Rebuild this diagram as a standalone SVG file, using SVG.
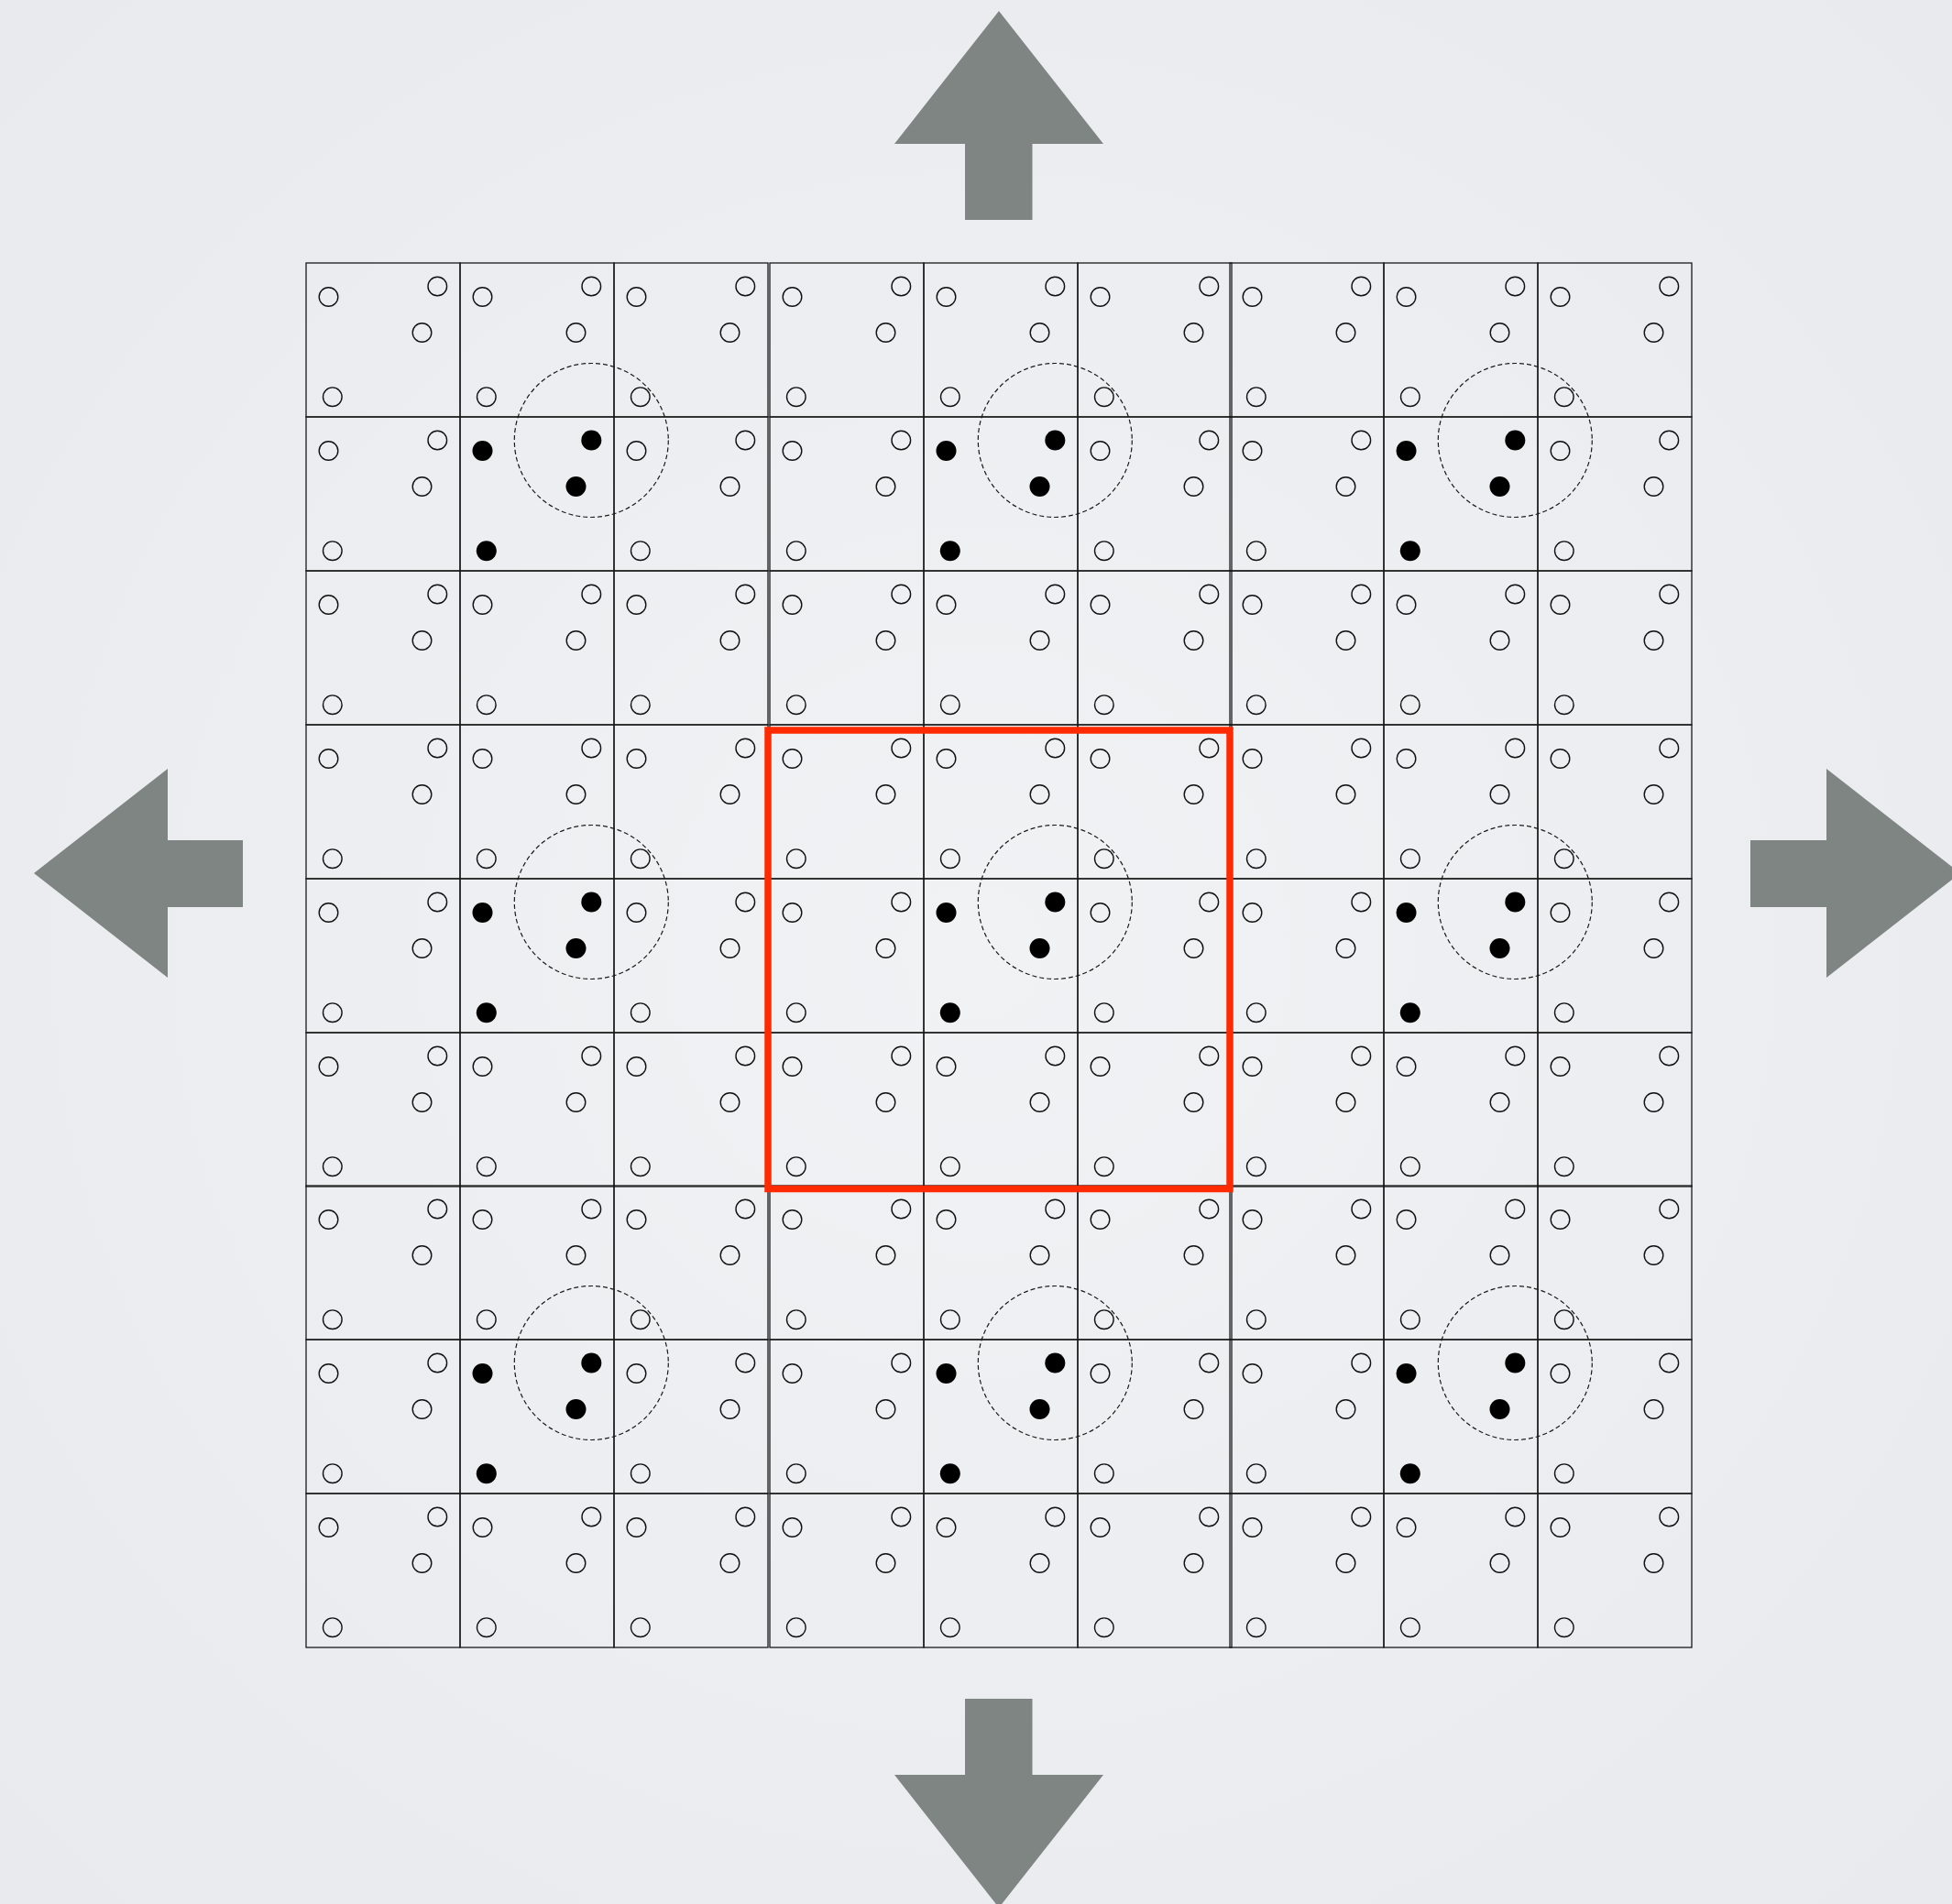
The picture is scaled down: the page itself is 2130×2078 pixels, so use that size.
<svg xmlns="http://www.w3.org/2000/svg" xmlns:xlink="http://www.w3.org/1999/xlink" width="2130" height="2078" viewBox="0 0 2130 2078">
  <style>
    .cellbox { fill: none; stroke: #1a1a1a; stroke-width: 1.3; }
    .open { fill: none; stroke: #111; stroke-width: 1.4; }
    .full { fill: #000; stroke: none; }
    .range { fill: none; stroke: #1a1a1a; stroke-width: 1.2; stroke-dasharray: 5 3; }
    .arrow { fill: #7f8582; stroke: none; }
    .focus { fill: none; stroke: #ff2a00; stroke-width: 7.5; }
  </style>
  <defs>
    <radialGradient id="bg" cx="50%" cy="50%" r="75%">
      <stop offset="0" stop-color="#f1f2f4"/>
      <stop offset="1" stop-color="#e7e9ec"/>
    </radialGradient>
    <g id="cellO">
      <rect class="cellbox" x="0" y="0" width="168" height="168"/>
      <circle class="open" cx="24.5" cy="37" r="10.3"/>
      <circle class="open" cx="143.3" cy="25.5" r="10.3"/>
      <circle class="open" cx="126.5" cy="76" r="10.3"/>
      <circle class="open" cx="28.8" cy="146.2" r="10.3"/>
    </g>
    <g id="cellF">
      <rect class="cellbox" x="0" y="0" width="168" height="168"/>
      <circle class="full" cx="24.5" cy="37" r="11"/>
      <circle class="full" cx="143.3" cy="25.5" r="11"/>
      <circle class="full" cx="126.5" cy="76" r="11"/>
      <circle class="full" cx="28.8" cy="146.2" r="11"/>
    </g>
    <g id="block">
      <use xlink:href="#cellO" x="0" y="0"/>
      <use xlink:href="#cellO" x="168" y="0"/>
      <use xlink:href="#cellO" x="336" y="0"/>
      <use xlink:href="#cellO" x="0" y="168"/>
      <use xlink:href="#cellF" x="168" y="168"/>
      <use xlink:href="#cellO" x="336" y="168"/>
      <use xlink:href="#cellO" x="0" y="336"/>
      <use xlink:href="#cellO" x="168" y="336"/>
      <use xlink:href="#cellO" x="336" y="336"/>
      <circle class="range" cx="311.3" cy="193.5" r="84"/>
    </g>
  </defs>

  <rect x="0" y="0" width="2130" height="2078" fill="url(#bg)"/>

  <g id="grid">
    <g id="block-0-0"><use xlink:href="#block" x="334" y="287"/></g>
    <g id="block-0-1"><use xlink:href="#block" x="840" y="287"/></g>
    <g id="block-0-2"><use xlink:href="#block" x="1342" y="287"/></g>
    <g id="block-1-0"><use xlink:href="#block" x="334" y="791"/></g>
    <g id="block-1-1"><use xlink:href="#block" x="840" y="791"/></g>
    <g id="block-1-2"><use xlink:href="#block" x="1342" y="791"/></g>
    <g id="block-2-0"><use xlink:href="#block" x="334" y="1294"/></g>
    <g id="block-2-1"><use xlink:href="#block" x="840" y="1294"/></g>
    <g id="block-2-2"><use xlink:href="#block" x="1342" y="1294"/></g>
  </g>

  <g id="focus-window">
    <rect class="focus" x="838" y="797" width="504" height="500.5"/>
  </g>

  <g id="arrows">
    <polygon id="arrow-up" class="arrow" points="1090,12 1204,157 1126.5,157 1126.5,240 1053,240 1053,157 976,157"/>
    <polygon id="arrow-down" class="arrow" points="1053,1854 1126.5,1854 1126.5,1937 1204,1937 1090,2082 976,1937 1053,1937"/>
    <polygon id="arrow-left" class="arrow" points="37,953 183,839 183,917 265,917 265,990 183,990 183,1067"/>
    <polygon id="arrow-right" class="arrow" points="1910,917 1993,917 1993,839 2139,953 1993,1067 1993,990 1910,990"/>
  </g>
</svg>
